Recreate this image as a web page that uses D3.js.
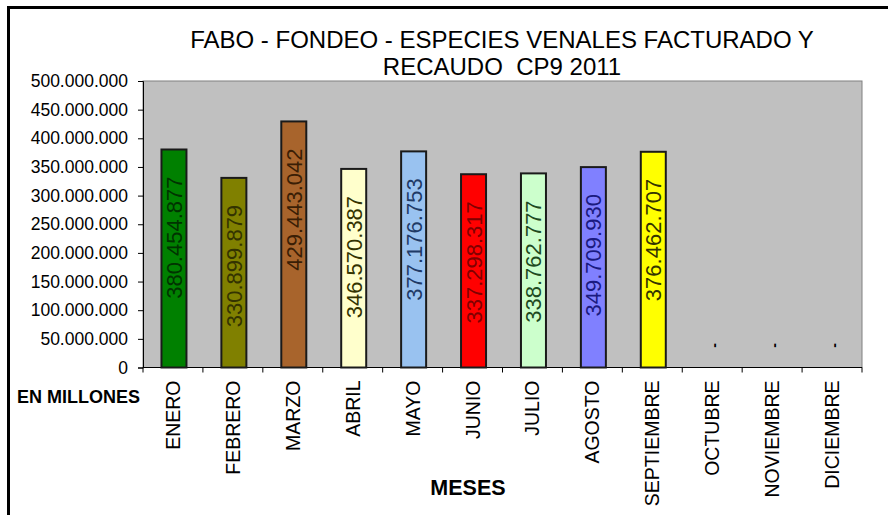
<!DOCTYPE html>
<html><head><meta charset="utf-8">
<script src="https://cdn.jsdelivr.net/npm/d3@7"></script>
<style>
html,body{margin:0;padding:0;background:#fff;}
svg{display:block;font-family:"Liberation Sans",Arial,sans-serif;}
.pre{white-space:pre;}
</style></head>
<body><svg id="c" width="888" height="515"></svg>
<script>
const months = ["ENERO","FEBRERO","MARZO","ABRIL","MAYO","JUNIO","JULIO","AGOSTO","SEPTIEMBRE","OCTUBRE","NOVIEMBRE","DICIEMBRE"];
const values = [380454877,330899879,429443042,346570387,377176753,337298317,338762777,349709930,376462707,0,0,0];
const barColors = ["#008000","#808000","#A8642C","#FFFFCC","#99C2F0","#FF0000","#CCFFCC","#8080FF","#FFFF00","#C0C0C0","#C0C0C0","#C0C0C0"];
const labelColors = ["#003300","#333300","#3A1E05","#333300","#1F3A66","#800000","#1E4A1E","#1A1A80","#333300","#000","#000","#000"];
const yTicks = [0,50000000,100000000,150000000,200000000,250000000,300000000,350000000,400000000,450000000,500000000];
const titleLines = ["FABO - FONDEO - ESPECIES VENALES FACTURADO Y","RECAUDO  CP9 2011"];
const xTitle = "MESES";
const yTitle = "EN MILLONES";

const fmt = v => v === 0 ? "0" : d3.format(",")(v).replace(/,/g,".");
const svg = d3.select("#c");

// outer frame (left and top)
svg.append("line").attr("x1",8.5).attr("x2",8.5).attr("y1",7).attr("y2",515).attr("stroke","#000").attr("stroke-width",3);
svg.append("line").attr("x1",7).attr("x2",888).attr("y1",7.5).attr("y2",7.5).attr("stroke","#000").attr("stroke-width",3);

const L=143, R=862, T=81, B=367.5;
const x = d3.scaleBand().domain(months).range([L,R]).paddingInner(0).paddingOuter(0);
const y = d3.scaleLinear().domain([0,500000000]).range([B,T]);

svg.append("rect").attr("x",L).attr("y",T).attr("width",R-L).attr("height",B-T)
  .attr("fill","#C0C0C0").attr("stroke","#808080").attr("stroke-width",1);

// y axis
const ya = svg.append("g").attr("transform",`translate(${L},0)`)
  .call(d3.axisLeft(y).tickValues(yTicks).tickFormat(fmt).tickSize(5).tickPadding(10));
ya.select(".domain").attr("stroke","#000");
ya.selectAll(".tick line").attr("stroke","#000");
ya.selectAll("text").attr("font-size",17.5).attr("fill","#000").attr("font-family","Liberation Sans, Arial, sans-serif");

// x axis (ticks between categories)
const xa = svg.append("g").attr("transform",`translate(0,${B})`);
xa.append("line").attr("x1",L).attr("x2",R).attr("stroke","#000").attr("stroke-width",1.2);
const bounds = months.map(m=>x(m)).concat([R]);
xa.selectAll("line.t").data(bounds).join("line").attr("class","t")
  .attr("x1",d=>d).attr("x2",d=>d).attr("y1",0).attr("y2",5).attr("stroke","#000");
xa.selectAll("text.m").data(months).join("text").attr("class","m")
  .attr("transform",d=>`translate(${x(d)+x.bandwidth()/2+7},13) rotate(-90)`)
  .attr("text-anchor","end").attr("font-size",19.5).attr("fill","#000").text(d=>d);

const bw = 25;
const bars = svg.append("g");
months.forEach((m,i)=>{
  const v = values[i];
  const cx = x(m)+x.bandwidth()/2;
  if (v>0) {
    bars.append("rect").attr("x",cx-bw/2+1).attr("y",y(v)).attr("width",bw).attr("height",B-y(v))
      .attr("fill",barColors[i]).attr("stroke","#1a1a1a").attr("stroke-width",2);
    bars.append("text").attr("transform",`translate(${cx+1+8},${y(v)+27}) rotate(-90)`)
      .attr("text-anchor","end").attr("font-size",22).attr("fill",labelColors[i]).text(fmt(v));
  } else {
    bars.append("text").attr("transform",`translate(${cx+3+4},${y(v)-22}) rotate(-90)`)
      .attr("text-anchor","middle").attr("font-size",14).attr("font-weight","bold").attr("fill","#000").text("-");
  }
});

// titles
const tg = svg.append("g").attr("text-anchor","middle").attr("font-size",24).attr("fill","#000");
tg.append("text").attr("x",502).attr("y",48).text(titleLines[0]);
tg.append("text").attr("class","pre").attr("x",502).attr("y",75).text(titleLines[1]);

svg.append("text").attr("x",17).attr("y",403).attr("font-size",18).attr("font-weight","bold").text(yTitle);
svg.append("text").attr("x",468).attr("y",495).attr("text-anchor","middle").attr("font-size",21.5).attr("font-weight","bold").text(xTitle);
</script></body></html>
